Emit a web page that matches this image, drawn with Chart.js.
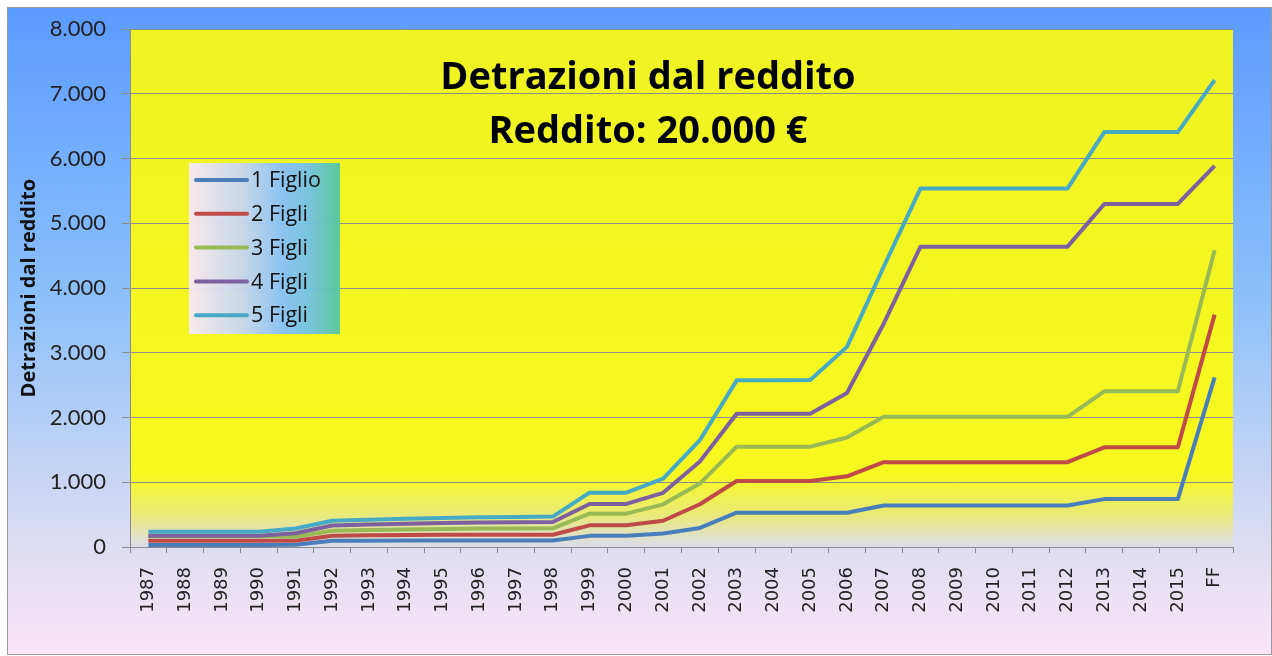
<!DOCTYPE html>
<html lang="it">
<head>
<meta charset="utf-8">
<title>Detrazioni dal reddito</title>
<script src="https://cdn.jsdelivr.net/npm/chart.js@4.4.1/dist/chart.umd.min.js"></script>
<style>
  html, body { margin: 0; padding: 0; background: #fff; }
  #wrap { width: 1272px; height: 656px; }
</style>
</head>
<body>
<div id="wrap"><canvas id="chart" width="1272" height="656"></canvas></div>
<script>
// Detrazioni per figli a carico, reddito 20.000 €

const anni = ['1987', '1988', '1989', '1990', '1991', '1992', '1993', '1994', '1995', '1996',
    '1997', '1998', '1999', '2000', '2001', '2002', '2003', '2004', '2005', '2006',
    '2007', '2008', '2009', '2010', '2011', '2012', '2013', '2014', '2015', 'FF'];

const unFiglio = [30, 30, 30, 30, 35, 95, 98, 100, 100, 100,
    100, 100, 172, 172, 210, 295, 530, 530, 530, 530,
    640, 640, 640, 640, 640, 640, 740, 740, 740, 2620];

const dueFigli = [95, 95, 95, 95, 95, 175, 180, 185, 190, 190,
    190, 190, 335, 335, 405, 660, 1020, 1020, 1020, 1092,
    1310, 1310, 1310, 1310, 1310, 1310, 1540, 1540, 1540, 3590];

const treFigli = [165, 165, 165, 165, 158, 252, 262, 272, 280, 285,
    287, 288, 515, 515, 659, 980, 1550, 1550, 1550, 1692,
    2012, 2012, 2012, 2012, 2012, 2012, 2405, 2405, 2405, 4585];

const quattroFigli = [172, 172, 172, 172, 212, 333, 348, 360, 370, 378,
    382, 385, 665, 665, 837, 1320, 2058, 2058, 2058, 2380,
    3450, 4640, 4640, 4640, 4640, 4640, 5300, 5300, 5300, 5890];

const cinqueFigli = [234, 234, 234, 234, 285, 405, 420, 435, 448, 460,
    465, 470, 840, 840, 1056, 1650, 2575, 2575, 2580, 3092,
    4330, 5540, 5540, 5540, 5540, 5540, 6410, 6410, 6410, 7214];

const serieNomi = ['1 Figlio', '2 Figli', '3 Figli', '4 Figli', '5 Figli'];
const serieColori = ['#4a7ebb', '#be4b48', '#98b954', '#7d60a0', '#46aac5'];
const yTickLabels = ['0', '1.000', '2.000', '3.000', '4.000', '5.000', '6.000', '7.000', '8.000'];

const titolo = ['Detrazioni dal reddito', 'Reddito: 20.000 €'];

// backgrounds: outer frame + plot area
const sfondoPlugin = {
    id: 'sfondo',
    beforeDraw(chart) {
        const ctx = chart.ctx;
        const a = chart.chartArea;
        ctx.save();
        ctx.fillStyle = '#fff';
        ctx.fillRect(0, 0, chart.width, chart.height);
        const g = ctx.createLinearGradient(0, 7, 0, 655);
        g.addColorStop(0, '#5b9bff');
        g.addColorStop(0.45, '#8cc0fb');
        g.addColorStop(0.82, '#dcdcf2');
        g.addColorStop(1, '#fae6f7');
        ctx.fillStyle = g;
        ctx.fillRect(7, 7, 1264, 648);
        ctx.strokeStyle = '#9a9a9a';
        ctx.lineWidth = 1;
        ctx.strokeRect(7.5, 7.5, 1264, 647);
        // plot area
        const p = ctx.createLinearGradient(0, a.top, 0, a.bottom);
        p.addColorStop(0, '#eef322');
        p.addColorStop(0.86, '#f7f81f');
        p.addColorStop(0.94, '#e9e97c');
        p.addColorStop(1, '#dcdcee');
        ctx.fillStyle = p;
        ctx.fillRect(a.left, a.top, a.right - a.left, a.bottom - a.top);
        ctx.restore();
    }
};

// title inside the plot + legend box
const titoloLegendaPlugin = {
    id: 'titoloLegenda',
    afterDatasetsDraw(chart) {
        const ctx = chart.ctx;
        ctx.save();
        ctx.fillStyle = '#000';
        ctx.font = 'bold 38px "Open Sans"';
        ctx.textAlign = 'center';
        ctx.textBaseline = 'middle';
        ctx.fillText(titolo[0], 648, 78);
        ctx.fillText(titolo[1], 648, 132);

        // legend
        const lx = 189, ly = 163, lw = 151, lh = 171;
        const lg = ctx.createLinearGradient(lx, 0, lx + lw, 0);
        lg.addColorStop(0, '#f8e8f6');
        lg.addColorStop(0.35, '#c6d6f2');
        lg.addColorStop(0.62, '#86c0fc');
        lg.addColorStop(0.8, '#72c2e4');
        lg.addColorStop(1, '#52c6a0');
        ctx.globalAlpha = 0.95;
        ctx.fillStyle = lg;
        ctx.fillRect(lx, ly, lw, lh);
        ctx.globalAlpha = 1;
        ctx.font = '21.5px "Open Sans"';
        ctx.textAlign = 'left';
        chart.data.datasets.forEach((ds, i) => {
            const y = 180 + i * 33.8;
            ctx.beginPath();
            ctx.moveTo(196, y);
            ctx.lineTo(247, y);
            ctx.strokeStyle = ds.borderColor;
            ctx.lineWidth = 4;
            ctx.lineCap = 'round';
            ctx.stroke();
            ctx.fillStyle = '#111';
            ctx.fillText(ds.label, 251, y + 1);
        });
        ctx.restore();
    }
};

const serieValori = [unFiglio, dueFigli, treFigli, quattroFigli, cinqueFigli];

new Chart(document.getElementById('chart'), {
    type: 'line',
    data: {
        labels: anni,
        datasets: serieValori.map((vals, i) => ({
            label: serieNomi[i],
            data: vals,
            borderColor: serieColori[i],
            backgroundColor: serieColori[i],
            borderWidth: 4,
            borderJoinStyle: 'round',
            borderCapStyle: 'butt',
            pointRadius: 0,
            tension: 0,
            fill: false,
            order: 4 - i   // later series on top, like the original
        }))
    },
    options: {
        responsive: false,
        animation: false,
        devicePixelRatio: 1,
        layout: { padding: { left: 0, top: 24, right: 39, bottom: 0 } },
        plugins: {
            legend: { display: false },
            tooltip: { enabled: false }
        },
        scales: {
            x: {
                offset: true,
                grid: { offset: true, drawOnChartArea: false, tickLength: 6, color: '#8c8c8c' },
                border: { color: '#8c8c8c' },
                ticks: {
                    autoSkip: false,
                    minRotation: 90,
                    maxRotation: 90,
                    padding: 14,
                    color: '#222',
                    font: { family: '"DejaVu Sans"', size: 18 }
                },
                afterFit(scale) { scale.height = 109; }
            },
            y: {
                min: 0,
                max: 8000,
                grid: { color: '#8c8c8c', tickLength: 8 },
                border: { color: '#8c8c8c' },
                ticks: {
                    stepSize: 1000,
                    padding: 16,
                    color: '#222',
                    font: { family: 'Lato', size: 22 },
                    callback: (v) => yTickLabels[Math.round(v / 1000)]
                },
                title: {
                    display: true,
                    text: 'Detrazioni dal reddito',
                    color: '#111',
                    font: { family: '"Open Sans"', size: 20, weight: 'bold' },
                    padding: { top: 17, bottom: 0 }
                },
                afterFit(scale) { scale.width = 130; }
            }
        }
    },
    plugins: [sfondoPlugin, titoloLegendaPlugin]
});
</script>
</body>
</html>
